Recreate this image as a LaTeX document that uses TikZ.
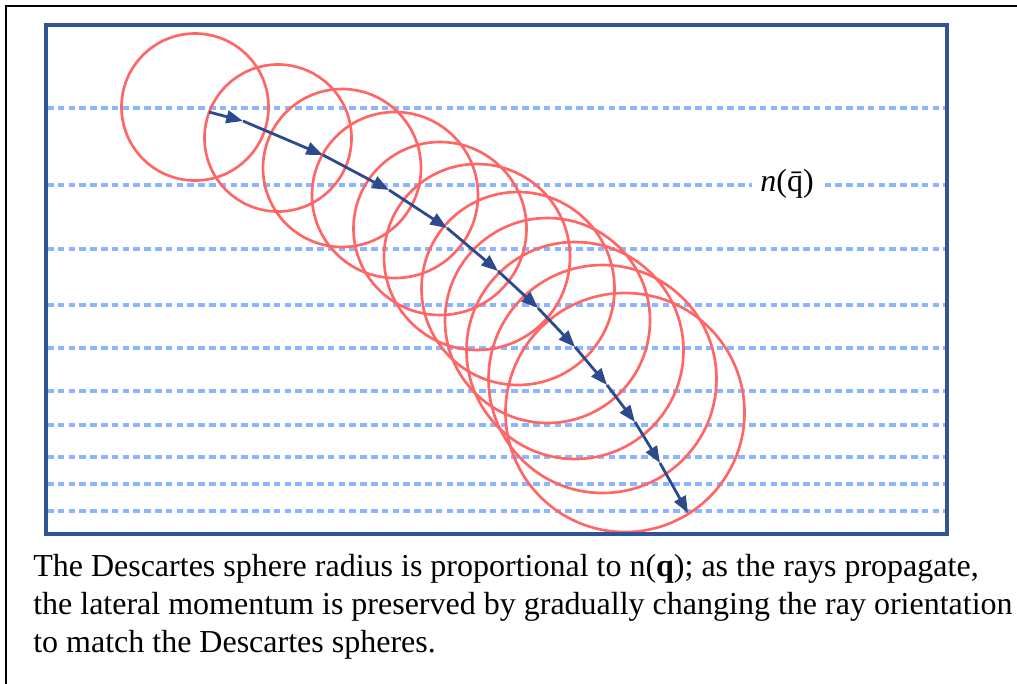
\documentclass[tikz,border=0pt]{standalone}
\usepackage{fontspec}
\setmainfont{Liberation Serif}
\usetikzlibrary{arrows.meta}
\definecolor{circred}{RGB}{255,102,102}
\definecolor{rectblue}{RGB}{47,85,151}
\definecolor{raysblue}{RGB}{44,74,140}
\definecolor{dashblue}{RGB}{140,182,255}
\tikzset{
  frameline/.style={line width=1.9pt, black},
  boxline/.style={line width=2.3pt, rectblue},
  levelline/.style={line width=2.4pt, dashblue, dash pattern=on 4.9pt off 3.2pt},
  sphere/.style={line width=2pt, circred},
  rayseg/.style={line width=2.1pt, raysblue, -{Triangle[length=12.5pt,width=9.5pt]}},
}
\begin{document}
\begin{tikzpicture}[x=0.75pt,y=-0.75pt]
\useasboundingbox (0,0) rectangle (1017,683);
\clip (0,0) rectangle (1017,683);
% outer frame (cropped)
\draw[frameline] (6,700) -- (6,6) -- (1040,6);
% dashed level lines
\foreach \yy in {108,185,249,305,348,391,425,457,484,511}
  \draw[levelline] (47,\yy) -- (946,\yy);
% label
\node[fill=white, inner xsep=6pt, inner ysep=1pt, font=\fontsize{24}{28}\selectfont] (nq) at (787,184) {\textit{n}(\={q})};
% Descartes spheres
\foreach \cx/\cy/\r in {195/107/73.5, 278/138/73.5, 342/168/79, 395/195/83, 440/228.5/86.5, 477/257/93, 518/288.5/96.5, 547.5/320.5/102.5, 575/350.5/108.5, 602.5/379/114, 625/412.5/119.5}
  \draw[sphere] (\cx,\cy) circle (\r);
% ray
\coordinate (p0) at (209,112);
\coordinate (p1) at (243,121);
\coordinate (p2) at (323,155);
\coordinate (p3) at (389,190);
\coordinate (p4) at (447,228);
\coordinate (p5) at (498,271);
\coordinate (p6) at (538,308);
\coordinate (p7) at (575,347);
\coordinate (p8) at (607,385);
\coordinate (p9) at (635,422);
\coordinate (p10) at (660,463);
\coordinate (p11) at (688,513);
\foreach \a/\b in {p0/p1,p1/p2,p2/p3,p3/p4,p4/p5,p5/p6,p6/p7,p7/p8,p8/p9,p9/p10,p10/p11}
  \draw[rayseg] (\a) -- (\b);
% box
\draw[boxline] (46,25) rectangle (947,534);
% caption
\node[anchor=base west, align=left, inner sep=0pt, font=\fontsize{24}{28.5}\selectfont] (cap) at (33,652)
 {The Descartes sphere radius is proportional to n(\textbf{q}); as the rays propagate,\\
  the lateral momentum is preserved by gradually changing the ray orientation\\
  to match the Descartes spheres.};
\end{tikzpicture}
\end{document}
